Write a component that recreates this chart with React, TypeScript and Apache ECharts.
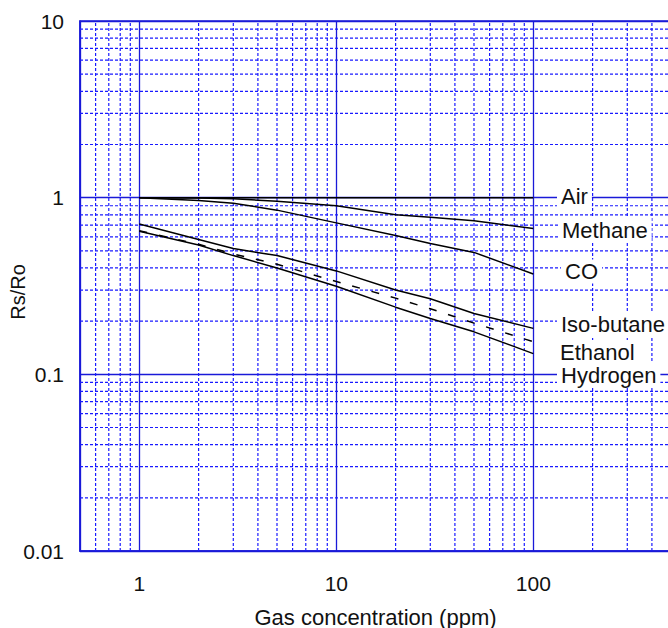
import React, { useEffect, useRef } from "react";
import * as echarts from "echarts";

const concentrations = [1, 2, 3, 5, 10, 20, 30, 50, 100];
const air = [1, 1, 1, 1, 1, 1, 1, 1, 1];
const methane = [1, 0.995, 0.985, 0.955, 0.9, 0.8, 0.775, 0.74, 0.67];
const co = [1, 0.965, 0.93, 0.85, 0.72, 0.61, 0.55, 0.49, 0.37];
const isoButane = [0.71, 0.58, 0.515, 0.47, 0.385, 0.3, 0.268, 0.221, 0.182];
const ethanol = [0.65, 0.545, 0.48, 0.42, 0.335, 0.27, 0.235, 0.195, 0.153];
const hydrogen = [0.645, 0.54, 0.47, 0.4, 0.315, 0.24, 0.207, 0.174, 0.131];

const X_MIN = 0.5;
const X_MAX = 500;
const Y_MIN = 0.01;
const Y_MAX = 10;
const xMinorLines = [0.6, 0.7, 0.8, 0.9, 2, 3, 4, 5, 6, 7, 8, 9, 20, 30, 40, 50, 60, 70, 80, 90, 200, 300, 400];
const yMinorLines = [0.02, 0.03, 0.04, 0.05, 0.06, 0.07, 0.08, 0.09, 0.2, 0.3, 0.4, 0.5, 0.6, 0.7, 0.8, 0.9, 2, 3, 4, 5, 6, 7, 8, 9];
const xTickLabels = [1, 10, 100];
const yTickLabels = ["0.01", "0.1", "1", "10"];

const curveLabels = [
  { text: "Air", x: 557, y: 196 },
  { text: "Methane", x: 558, y: 230 },
  { text: "CO", x: 561, y: 271.5 },
  { text: "Iso-butane", x: 557, y: 324 },
  { text: "Ethanol", x: 556, y: 352 },
  { text: "Hydrogen", x: 557, y: 375 },
];

const FONT = "'Liberation Sans', Arial, sans-serif";
const MAJOR = "#1a1ad8";
const MINOR = "#1a1aff";

function pairs(vals: number[]) {
  return concentrations.map((c, i) => [c, vals[i]]);
}

function isDecade(v: number) {
  const l = Math.log10(v);
  return Math.abs(l - Math.round(l)) < 1e-6;
}

export default function App() {
  const ref = useRef<HTMLDivElement>(null);
  useEffect(() => {
    if (!ref.current) return;
    const chart = echarts.init(ref.current, null, { renderer: "svg" });
    const curve = (name: string, vals: number[], dashed = false) => ({
      name,
      type: "line",
      data: pairs(vals),
      symbol: "none",
      z: 5,
      color: "#000",
      lineStyle: { color: "#000", width: 1.5, type: dashed ? [8, 12] : "solid" },
    });
    const minor = (data: number[][]) => ({
      type: "line",
      data,
      symbol: "none",
      silent: true,
      z: 1,
      color: MINOR,
      lineStyle: { color: MINOR, width: 1.2, type: [3, 2] },
    });
    const minorSeries = [
      ...xMinorLines.map((v) => minor([[v, Y_MIN], [v, Y_MAX]])),
      ...yMinorLines.map((v) => minor([[X_MIN, v], [X_MAX, v]])),
    ];
    chart.setOption({
      animation: false,
      backgroundColor: "#fff",
      grid: {
        left: 80,
        top: 21,
        right: -3,
        bottom: 77,
        show: true,
        borderColor: MAJOR,
        borderWidth: 1.5,
        containLabel: false,
        outerBoundsMode: "none",
      },
      xAxis: {
        type: "log",
        logBase: 10,
        min: X_MIN,
        max: X_MAX,
        name: "Gas concentration (ppm)",
        nameLocation: "middle",
        nameGap: 55,
        nameTextStyle: { fontSize: 22, color: "#111", fontFamily: FONT },
        axisLine: { show: true, lineStyle: { color: MAJOR, width: 1.5 } },
        axisTick: { show: false },
        axisLabel: {
          margin: 22,
          fontSize: 21,
          color: "#111",
          fontFamily: FONT,
          formatter: (v: number) => {
            if (!isDecade(v)) return "";
            const r = Math.round(v);
            return xTickLabels.includes(r) ? String(r) : "";
          },
        },
        splitLine: { show: true, lineStyle: { color: MAJOR, width: 1.3 } },
      },
      yAxis: {
        type: "log",
        logBase: 10,
        min: Y_MIN,
        max: Y_MAX,
        axisLine: { show: true, lineStyle: { color: MAJOR, width: 1.5 } },
        axisTick: { show: false },
        axisLabel: {
          margin: 16,
          fontSize: 21,
          color: "#111",
          fontFamily: FONT,
          formatter: (v: number) => {
            if (!isDecade(v)) return "";
            const e = Math.round(Math.log10(v));
            const s = e < 0 ? Math.pow(10, e).toFixed(-e) : String(Math.pow(10, e));
            return yTickLabels.includes(s) ? s : "";
          },
        },
        splitLine: { show: true, lineStyle: { color: MAJOR, width: 1.3 } },
      },
      series: [
        ...minorSeries,
        curve("Air", air),
        curve("Methane", methane),
        curve("CO", co),
        curve("Iso-butane", isoButane),
        curve("Ethanol", ethanol, true),
        curve("Hydrogen", hydrogen),
      ],
      graphic: [
        {
          type: "text",
          x: 18,
          y: 292,
          rotation: Math.PI / 2,
          style: {
            text: "Rs/Ro",
            fontSize: 20,
            fontFamily: FONT,
            fill: "#111",
            align: "center",
            verticalAlign: "middle",
          },
        },
        ...curveLabels.map((l) => ({
          type: "text",
          x: l.x,
          y: l.y,
          z: 100,
          style: {
            text: l.text,
            fontSize: 22,
            fontFamily: FONT,
            fill: "#111",
            verticalAlign: "middle",
            align: "left",
            backgroundColor: "#fff",
            padding: [1, 4, 1, 4],
          },
        })),
      ],
    });
    return () => chart.dispose();
  }, []);
  return (
    <div
      ref={ref}
      style={{ position: "fixed", left: 0, top: 0, width: 668, height: 628 }}
    />
  );
}
